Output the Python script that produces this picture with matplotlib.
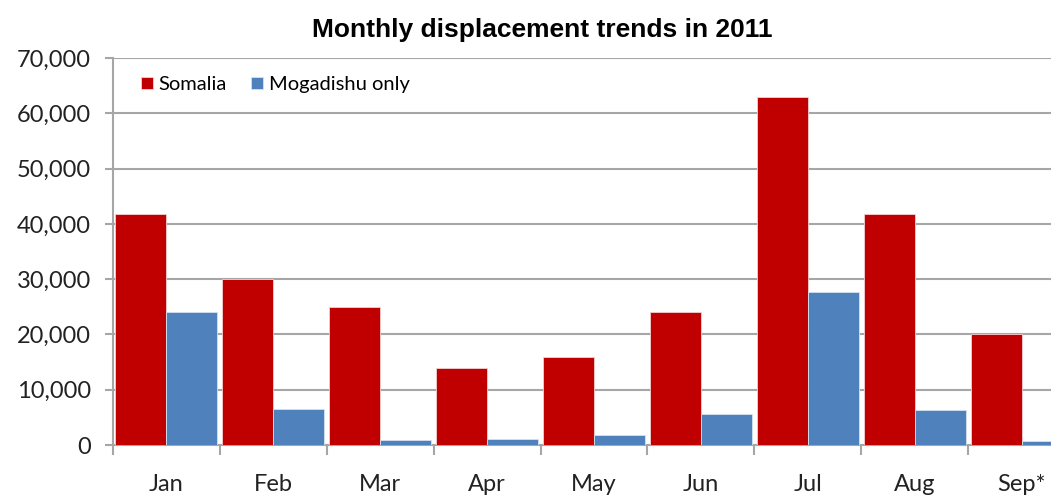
import matplotlib.pyplot as plt
import numpy as np
from matplotlib.ticker import FuncFormatter, FixedLocator

months = ["Jan", "Feb", "Mar", "Apr", "May", "Jun", "Jul", "Aug", "Sep*"]
somalia = [41800, 30000, 25000, 14000, 16000, 24000, 63000, 41800, 20000]
mogadishu = [24100, 6450, 900, 1100, 1750, 5650, 27600, 6300, 700]

red = "#C00000"
blue = "#4F81BD"
grid_grey = "#a6a6a6"

fig = plt.figure(figsize=(10.51, 4.98), dpi=100)
ax = fig.add_axes([0.1075, 0.1064, 0.9153, 0.7771])

x = np.arange(len(months))
w = 0.477
ax.bar(x - w / 2, somalia, w, color=red, edgecolor="#f4d0d0", linewidth=0.6,
       label="Somalia", zorder=3)
ax.bar(x + w / 2, mogadishu, w, color=blue, edgecolor="#d5e2f0", linewidth=0.6,
       label="Mogadishu only", zorder=3)

ax.set_xlim(-0.5, len(months) - 0.5)
ax.set_ylim(0, 70000)
ax.set_yticks(np.arange(0, 70001, 10000))
ax.yaxis.set_major_formatter(FuncFormatter(lambda v, p: f"{int(v):,}"))
ax.yaxis.grid(True, color=grid_grey, linewidth=1.5, zorder=0)

ax.set_xticks(x)
ax.set_xticklabels(months)
ax.xaxis.set_minor_locator(FixedLocator(np.arange(-0.5, len(months), 1.0)))
ax.tick_params(axis="x", which="major", length=0, pad=21)
ax.tick_params(axis="x", which="minor", length=7, width=1.5, color=grid_grey)
ax.tick_params(axis="y", length=6, width=1.5, color=grid_grey, pad=10)
for lab in ax.get_xticklabels() + ax.get_yticklabels():
    lab.set_fontfamily("Lato")
    lab.set_fontsize(17)
    lab.set_color("#222222")

for s in ["top", "right"]:
    ax.spines[s].set_visible(False)
for s in ["left", "bottom"]:
    ax.spines[s].set_color(grid_grey)
    ax.spines[s].set_linewidth(1.5)

fig.suptitle("Monthly displacement trends in 2011", x=0.516, y=0.964,
             fontsize=19, fontweight="bold", family="Liberation Sans")

ax.legend(loc="upper left", bbox_to_anchor=(0.01, 1.0), ncol=2, frameon=False,
          prop={"family": "Lato", "size": 14.5}, handlelength=0.6, handleheight=0.6,
          handletextpad=0.3, columnspacing=1.2)

fig.savefig("out.png", dpi=100)
